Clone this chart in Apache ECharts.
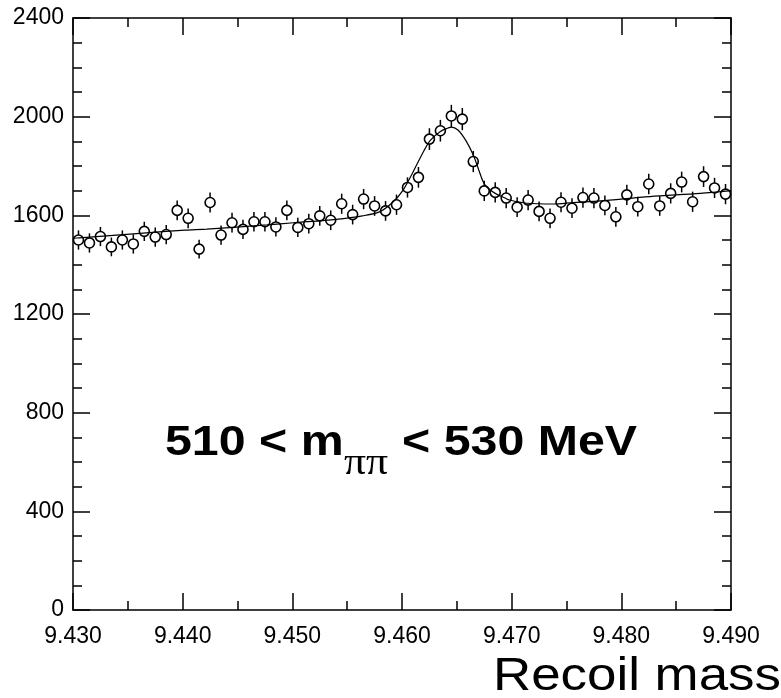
<!DOCTYPE html>
<html>
<head>
<meta charset="utf-8">
<script src="https://cdn.jsdelivr.net/npm/echarts@6/dist/echarts.min.js"></script>
<style>
html,body{margin:0;padding:0;background:#fff;}
#chart{width:781px;height:698px;}
</style>
</head>
<body>
<div id="chart"></div>
<script>
// bin centres (GeV)
const binCenters = [9.4305,9.4315,9.4325,9.4335,9.4345,9.4355,9.4365,9.4375,9.4385,9.4395,
  9.4405,9.4415,9.4425,9.4435,9.4445,9.4455,9.4465,9.4475,9.4485,9.4495,
  9.4505,9.4515,9.4525,9.4535,9.4545,9.4555,9.4565,9.4575,9.4585,9.4595,
  9.4605,9.4615,9.4625,9.4635,9.4645,9.4655,9.4665,9.4675,9.4685,9.4695,
  9.4705,9.4715,9.4725,9.4735,9.4745,9.4755,9.4765,9.4775,9.4785,9.4795,
  9.4805,9.4815,9.4825,9.4835,9.4845,9.4855,9.4865,9.4875,9.4885,9.4895];
// entries per bin
const counts = [1500,1488,1514,1472,1500,1484,1535,1512,1522,1620,
  1588,1463,1652,1520,1570,1543,1574,1574,1553,1620,
  1551,1566,1598,1580,1647,1603,1666,1638,1618,1643,
  1713,1754,1909,1943,2003,1990,1818,1699,1693,1670,
  1633,1662,1616,1588,1653,1629,1672,1670,1640,1594,
  1683,1635,1727,1638,1689,1735,1655,1757,1711,1686];
// error bar half-lengths
const errors = [39,39,39,38,39,39,39,39,39,40,
  40,38,41,39,40,39,40,40,39,40,
  39,40,40,40,41,40,41,40,40,41,
  41,42,44,44,45,45,43,41,41,41,
  40,41,40,40,41,40,41,41,40,40,
  41,40,42,40,41,42,41,42,41,41];
// fit curve
const fitX = [9.4300,9.4306,9.4361,9.4402,9.4422,9.4477,9.4501,9.4540,9.4564,9.4580,9.4592,
  9.4601,9.4610,9.4620,9.4626,9.4635,9.4642,9.4645,9.4651,9.4658,9.4665,9.4670,9.4674,
  9.4677,9.4685,9.4694,9.4698,9.4714,9.4738,9.4756,9.4781,9.4826,9.4872,9.4900];
const fitY = [1507,1509,1527,1540,1544,1561,1570,1584,1598,1615,1655,
  1702,1775,1862,1905,1940,1954,1958,1946,1905,1845,1784,1736,
  1716,1689,1670,1662,1649,1646,1652,1659,1676,1689,1700];
// axis ticks
const xTicks = {min: 9.43, max: 9.49, step: 0.01};
const yTicks = {min: 0, max: 2400, step: 400};

const pts = binCenters.map((x, i) => [x, counts[i], errors[i]]);
const fit = fitX.map((x, i) => [x, fitY[i]]);

const chart = echarts.init(document.getElementById('chart'), null, {renderer: 'canvas'});
const FONT = 'Liberation Sans';
const axisCommon = {
  axisLine: {show: true, onZero: false, lineStyle: {color: '#000', width: 1.5}},
  axisTick: {show: true, inside: true, length: 17, lineStyle: {color: '#000', width: 1.5}},
  splitLine: {show: false},
  minorSplitLine: {show: false}
};
const minorX = {minorTick: {show: true, splitNumber: 2, length: 9, lineStyle: {color: '#000', width: 1.5}}};
const minorY = {minorTick: {show: true, splitNumber: 4, length: 9, lineStyle: {color: '#000', width: 1.5}}};
chart.setOption({
  animation: false,
  backgroundColor: '#fff',
  grid: {left: 73, right: 50, top: 18, bottom: 88, containLabel: false},
  xAxis: [
    Object.assign({type: 'value', position: 'bottom', min: xTicks.min, max: xTicks.max, interval: xTicks.step,
      axisLabel: {show: true, margin: 15, color: '#000', fontFamily: FONT, fontSize: 23,
        formatter: v => v.toFixed(3)}}, axisCommon, minorX),
    Object.assign({type: 'value', position: 'top', min: xTicks.min, max: xTicks.max, interval: xTicks.step,
      axisLabel: {show: false}}, axisCommon, minorX)
  ],
  yAxis: [
    Object.assign({type: 'value', position: 'left', min: yTicks.min, max: yTicks.max, interval: yTicks.step,
      axisLabel: {show: true, margin: 9, color: '#000', fontFamily: FONT, fontSize: 23,
        formatter: v => String(v)}}, axisCommon, minorY),
    Object.assign({type: 'value', position: 'right', min: yTicks.min, max: yTicks.max, interval: yTicks.step,
      axisLabel: {show: false}}, axisCommon, minorY)
  ],
  series: [
    {
      type: 'custom',
      xAxisIndex: 0, yAxisIndex: 0,
      data: pts,
      z: 2,
      renderItem: function (params, api) {
        const x = api.value(0), y = api.value(1), e = api.value(2);
        const lo = api.coord([x, y - e]);
        const hi = api.coord([x, y + e]);
        return {type: 'line', shape: {x1: lo[0], y1: lo[1], x2: hi[0], y2: hi[1]},
          style: {stroke: '#000', lineWidth: 1.5}};
      }
    },
    {
      type: 'scatter',
      xAxisIndex: 0, yAxisIndex: 0,
      data: pts.map(p => [p[0], p[1]]),
      symbol: 'circle', symbolSize: 10,
      itemStyle: {color: '#fff', borderColor: '#000', borderWidth: 1.6, opacity: 1},
      z: 3
    },
    {
      type: 'line',
      xAxisIndex: 0, yAxisIndex: 0,
      data: fit,
      smooth: 0.3,
      showSymbol: false,
      lineStyle: {color: '#000', width: 1.2},
      z: 4
    }
  ],
  graphic: [
    {type: 'text', x: 165, y: 443, scaleX: 1.15, style: {text: '510 < m', font: 'bold 42px "Liberation Sans"', fill: '#000', align: 'left', verticalAlign: 'middle'}},
    {type: 'text', x: 344, y: 464, scaleX: 1.15, style: {text: 'ππ', font: '38px "Liberation Serif"', fill: '#000', align: 'left', verticalAlign: 'middle'}},
    {type: 'text', x: 637, y: 443, scaleX: 1.15, style: {text: '< 530 MeV', font: 'bold 42px "Liberation Sans"', fill: '#000', align: 'right', verticalAlign: 'middle'}},
    {type: 'text', x: 493, y: 677, scaleX: 1.125, style: {text: 'Recoil mass', font: '47px "Liberation Sans"', fill: '#000', align: 'left', verticalAlign: 'middle'}}
  ]
});
</script>
</body>
</html>
